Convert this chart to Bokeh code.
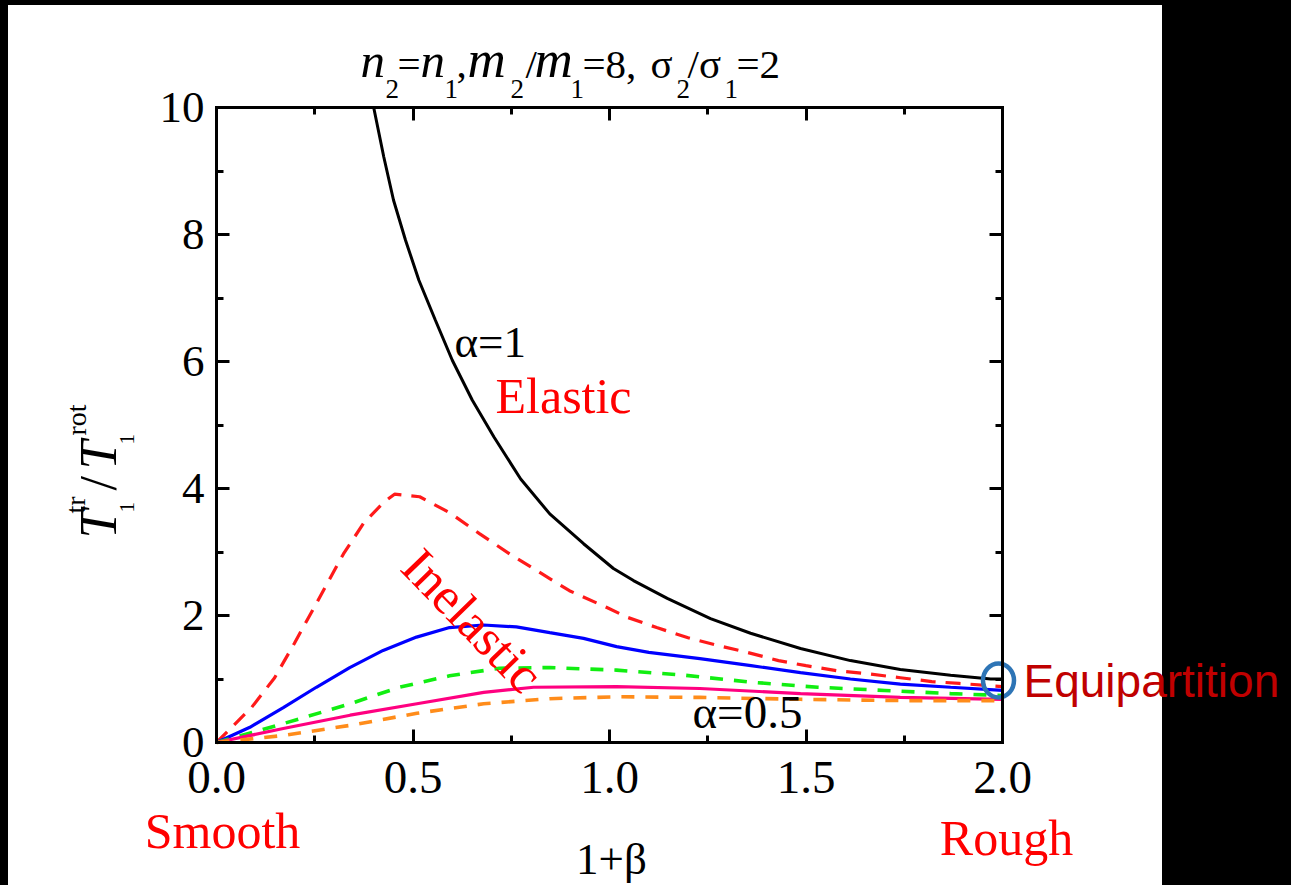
import numpy as np
from bokeh.plotting import figure
from bokeh.models import (Label, LinearAxis, FixedTicker, CustomJSTickFormatter, Range1d)
from bokeh.embed import file_html
from bokeh.resources import INLINE

# ---------------- data ----------------
x_el = [0.400, 0.4257, 0.4505, 0.481, 0.515, 0.557, 0.600, 0.651, 0.706, 0.774, 0.848,
        0.934, 1.01, 1.061, 1.147, 1.257, 1.359, 1.486, 1.613, 1.74, 1.868, 1.97, 2.0]
y_el = [10.0, 9.22, 8.54, 7.91, 7.28, 6.65, 6.02, 5.39, 4.81, 4.15, 3.6,
        3.13, 2.74, 2.55, 2.27, 1.95, 1.72, 1.48, 1.29, 1.15, 1.06, 1.0, 1.0]

x_red = [0, 0.089, 0.148, 0.198, 0.254, 0.323, 0.374, 0.425, 0.453, 0.517, 0.593,
         0.669, 0.746, 0.814, 0.898, 0.992, 1.046, 1.12, 1.20, 1.275, 1.35, 1.43,
         1.50, 1.58, 1.66, 1.74, 1.82, 1.89, 2.0]
y_red = [0, 0.55, 1.02, 1.56, 2.19, 2.97, 3.45, 3.78, 3.91, 3.87, 3.62,
         3.29, 2.97, 2.71, 2.39, 2.13, 1.97, 1.81, 1.65, 1.53, 1.42, 1.29,
         1.21, 1.13, 1.08, 1.02, 0.96, 0.93, 0.88]

x_blue = [0, 0.085, 0.17, 0.254, 0.339, 0.424, 0.509, 0.593, 0.679, 0.763, 0.848,
          0.934, 1.018, 1.10, 1.23, 1.36, 1.486, 1.613, 1.74, 1.868, 2.0]
y_blue = [0, 0.24, 0.55, 0.87, 1.18, 1.45, 1.66, 1.81, 1.85, 1.82, 1.73,
          1.64, 1.51, 1.42, 1.32, 1.21, 1.10, 1.0, 0.92, 0.87, 0.82]

x_green = [0, 0.11, 0.21, 0.34, 0.465, 0.593, 0.72, 0.848, 1.018, 1.19, 1.36,
           1.53, 1.70, 1.868, 2.0]
y_green = [0, 0.19, 0.37, 0.61, 0.87, 1.05, 1.17, 1.18, 1.14, 1.06, 0.95,
           0.87, 0.82, 0.77, 0.74]

x_pink = [0, 0.17, 0.34, 0.51, 0.68, 0.807, 1.018, 1.23, 1.486, 1.74, 2.0]
y_pink = [0, 0.22, 0.43, 0.61, 0.79, 0.87, 0.88, 0.85, 0.77, 0.71, 0.68]

x_orange = [0, 0.17, 0.34, 0.51, 0.68, 0.848, 1.018, 1.23, 1.486, 1.74, 2.0]
y_orange = [0, 0.11, 0.27, 0.46, 0.61, 0.69, 0.72, 0.71, 0.68, 0.66, 0.66]

x_ticks = [0, 0.5, 1.0, 1.5, 2.0]
x_minor = [0.25, 0.75, 1.25, 1.75]
y_ticks = [0, 2, 4, 6, 8, 10]
y_minor = [1, 3, 5, 7, 9]
x_lim = (0.0, 2.0)
y_lim = (0.0, 10.0)

equi_x, equi_y = 2.0, 1.0

# ---------------- geometry: page pixels of the plot box ----------------
W, H = 1291, 885
X0, X1 = 216.0, 1002.0      # page px of x=0 and x=2
Y0, Y1 = 742.0, 107.0       # page px of y=0 and y=10
SX = (X1 - X0) / (x_lim[1] - x_lim[0])
SY = (Y0 - Y1) / (y_lim[1] - y_lim[0])


def dx(px):
    return x_lim[0] + (px - X0) / SX


def dy(py):
    return y_lim[0] + (Y0 - py) / SY


SERIF = "Liberation Serif"

kw = dict(width=W, height=H,
          x_range=Range1d(dx(0), dx(W)), y_range=Range1d(dy(H), dy(0)),
          min_border=0, min_border_left=0, min_border_right=0,
          min_border_top=0, min_border_bottom=0,
          output_backend="svg", toolbar_location=None,
          x_axis_location=None, y_axis_location=None,
          border_fill_color=None, background_fill_color=None,
          outline_line_color=None,
          styles={"background": "linear-gradient(#ffffff,#ffffff) 8px 5px / 1154px 880px no-repeat, #000000"})
try:
    from bokeh.models import GlobalInlineStyleSheet
    kw["stylesheets"] = [GlobalInlineStyleSheet(css="body{background:#000000;}")]
except Exception:
    pass

p = figure(**kw)
p.grid.visible = False


def make_axis(ticks, minor, fmt, show_labels, loc, bounds, size="44px"):
    ax = LinearAxis(ticker=FixedTicker(ticks=ticks, minor_ticks=minor))
    ax.formatter = CustomJSTickFormatter(code=fmt if show_labels else "return ''")
    ax.fixed_location = loc
    ax.bounds = bounds
    ax.axis_line_width = 3
    ax.axis_line_cap = "square"
    ax.major_tick_line_width = 3
    ax.minor_tick_line_width = 3
    ax.major_tick_in = 13
    ax.major_tick_out = 0
    ax.minor_tick_in = 7
    ax.minor_tick_out = 0
    ax.major_label_text_font = SERIF
    ax.major_label_text_font_size = size if show_labels else "1px"
    ax.major_label_text_color = "black"
    return ax


xb = make_axis(x_ticks, x_minor, "return tick.toFixed(1)", True, y_lim[0], x_lim, "47px")
xb.major_label_standoff = 19
p.add_layout(xb, "below")
xt = make_axis(x_ticks, x_minor, "", False, y_lim[1], x_lim)
p.add_layout(xt, "above")
yl = make_axis(y_ticks, y_minor, "return tick.toFixed(0)", True, x_lim[0], y_lim, "45px")
yl.major_label_standoff = 12
p.add_layout(yl, "left")
yr = make_axis(y_ticks, y_minor, "", False, x_lim[1], y_lim)
p.add_layout(yr, "right")

# ---------------- curves ----------------
p.line(x_el, y_el, line_color="black", line_width=3)
p.line(x_red, y_red, line_color="#ff1a1a", line_width=3.2, line_dash="15 10")
p.line(x_blue, y_blue, line_color="#0000ff", line_width=3.2)
p.line(x_green, y_green, line_color="#11ee11", line_width=3.6, line_dash="13 11")
p.line(x_pink, y_pink, line_color="#ff0080", line_width=3.2)
p.line(x_orange, y_orange, line_color="#ff8c1a", line_width=3.6, line_dash="13 11")

# equipartition marker (ellipse in screen size)
p.ellipse(x=[equi_x - 4 / SX], y=[equi_y - 1.5 / SY], width=31, height=34,
          width_units="screen", height_units="screen",
          fill_color=None, line_color="#2e75b6", line_width=4.5)

KH = 0.36   # baseline correction (fraction of font size), horizontal text
KR = 0.32   # same for text rotated by 90 degrees


def lab(text, px, py, size, color="black", font=SERIF, style="normal",
        align="left", baseline="alphabetic", angle=0.0):
    if baseline == "alphabetic":
        if angle == 0.0:
            py = py - KH * size
        else:
            px = px - KR * size
    p.add_layout(Label(x=dx(px), y=dy(py), text=text, text_font=font,
                       text_font_size=f"{size}px", text_color=color,
                       text_font_style=style, text_align=align,
                       text_baseline=baseline, angle=angle))


# title pieces  (n2=n1, m2/m1=8, σ2/σ1=2)
IN, IM, BIG, SUB = 49, 53, 41, 27
title_parts = [
    ("n", 360, 78, IN, "italic"), ("2", 385, 98, SUB, "normal"),
    ("=", 397, 78, BIG, "normal"), ("n", 420, 78, IN, "italic"),
    ("1", 444, 98, SUB, "normal"), (",", 456, 78, BIG, "normal"),
    ("m", 467, 78, IM, "italic"), ("2", 510, 98, SUB, "normal"),
    ("/", 525, 78, BIG, "normal"), ("m", 534, 78, IM, "italic"),
    ("1", 570, 98, SUB, "normal"), ("=8,", 582, 78, BIG, "normal"),
    ("σ", 650, 78, BIG, "normal"), ("2", 676, 98, SUB, "normal"),
    ("/σ", 687, 78, BIG, "normal"), ("1", 724, 98, SUB, "normal"),
    ("=2", 736, 78, BIG, "normal"),
]
for txt, px, py, s, st in title_parts:
    lab(txt, px, py, s, style=st)

# y-axis label pieces (rotated):  T_1^tr / T_1^rot
R = np.pi / 2
ylab_parts = [
    ("T", 115, 538, 52, "italic"), ("1", 133, 512, 21, "normal"),
    ("tr", 84, 513, 28, "normal"), ("/", 115, 490, 52, "normal"),
    ("T", 115, 469, 52, "italic"), ("1", 133, 444, 21, "normal"),
    ("rot", 85, 435, 28, "normal"),
]
for txt, px, py, s, st in ylab_parts:
    lab(txt, px, py, s, style=st, angle=R)

# annotations
lab("α=1", 454, 358, 45)
lab("Elastic", 495, 413, 50, color="#ff0000")
lab("Inelastic", 472, 620, 52, color="#ff0000", align="center",
    baseline="middle", angle=-0.80)
lab("α=0.5", 692, 728, 47)
lab("Smooth", 222, 848, 50, color="#ff0000", align="center")
lab("Rough", 1006, 855, 50, color="#ff0000", align="center")
lab("1+β", 611, 875, 45, align="center")
lab("Equipartition", 1023, 697, 46, color="#c00000", font="Liberation Sans")

open("out.html", "w").write(file_html(p, INLINE))
